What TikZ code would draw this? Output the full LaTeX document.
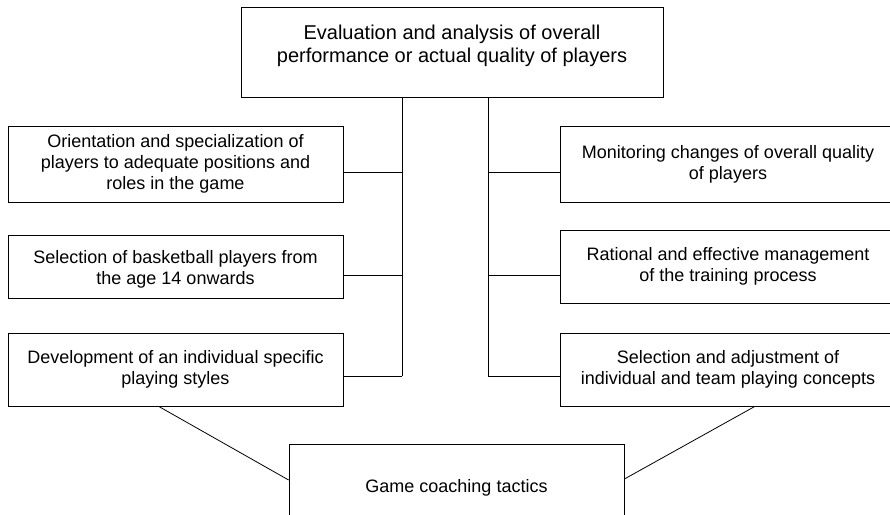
\documentclass[tikz,border=0pt]{standalone}
\usepackage{fontspec}
\setmainfont{Liberation Sans}
\usetikzlibrary{calc}
\tikzstyle{box} = [rectangle, draw=black, line width=0.8pt, align=center, inner sep=0pt, font=\fontsize{18}{21}\selectfont]
\tikzstyle{side} = [box, minimum width=335pt]
\tikzstyle{link} = [line width=0.8pt]

\begin{document}
\begin{tikzpicture}[x=1pt, y=-1pt]
\useasboundingbox (0,0) rectangle (890,514);
\clip (0,0) rectangle (890,514);

% Nodes
\node (eval) [box, minimum width=422pt, minimum height=90pt, font=\fontsize{20}{23}\selectfont, text depth=15.6pt] at (452,52) {Evaluation and analysis of overall \\ performance or actual quality of players};

\node (orient) [side, minimum height=76pt] at (175.5,164) {Orientation and specialization of \\ players to adequate positions and \\ roles in the game};
\node (select) [side, minimum height=63pt, text height=40pt] at (175.5,266.5) {Selection of basketball players from \\ the age 14 onwards};
\node (develop) [side, minimum height=73pt] at (175.5,369.5) {Development of an individual specific \\ playing styles};

\node (monitor) [side, minimum height=76pt] at (728,164) {Monitoring changes of overall quality \\ of players};
\node (manage) [side, minimum height=73pt] at (728,266.5) {Rational and effective management \\ of the training process};
\node (concept) [side, minimum height=73pt] at (728,369.5) {Selection and adjustment of \\ individual and team playing concepts};

\node (game) [side, minimum height=88pt] at (456.5,488) {Game coaching tactics};

% Trunks
\coordinate (lfork1) at (402,172);
\coordinate (lfork2) at (402,275);
\coordinate (lfork3) at (402,376);
\coordinate (rfork1) at (488,172);
\coordinate (rfork2) at (488,275);
\coordinate (rfork3) at (488,376);
\draw [link] (eval.south -| lfork1) -- (lfork3);
\draw [link] (eval.south -| rfork1) -- (rfork3);

% Branches
\draw [link] (orient.east |- lfork1) -- (lfork1);
\draw [link] (select.east |- lfork2) -- (lfork2);
\draw [link] (develop.east |- lfork3) -- (lfork3);
\draw [link] (monitor.west |- rfork1) -- (rfork1);
\draw [link] (manage.west |- rfork2) -- (rfork2);
\draw [link] (concept.west |- rfork3) -- (rfork3);

% Links to tactics
\draw [link] ($(develop.south west)!0.45!(develop.south east)$) -- ([yshift=8pt]game.west);
\draw [link] ($(concept.south west)!0.58!(concept.south east)$) -- ([yshift=9pt]game.east);

\end{tikzpicture}
\end{document}
